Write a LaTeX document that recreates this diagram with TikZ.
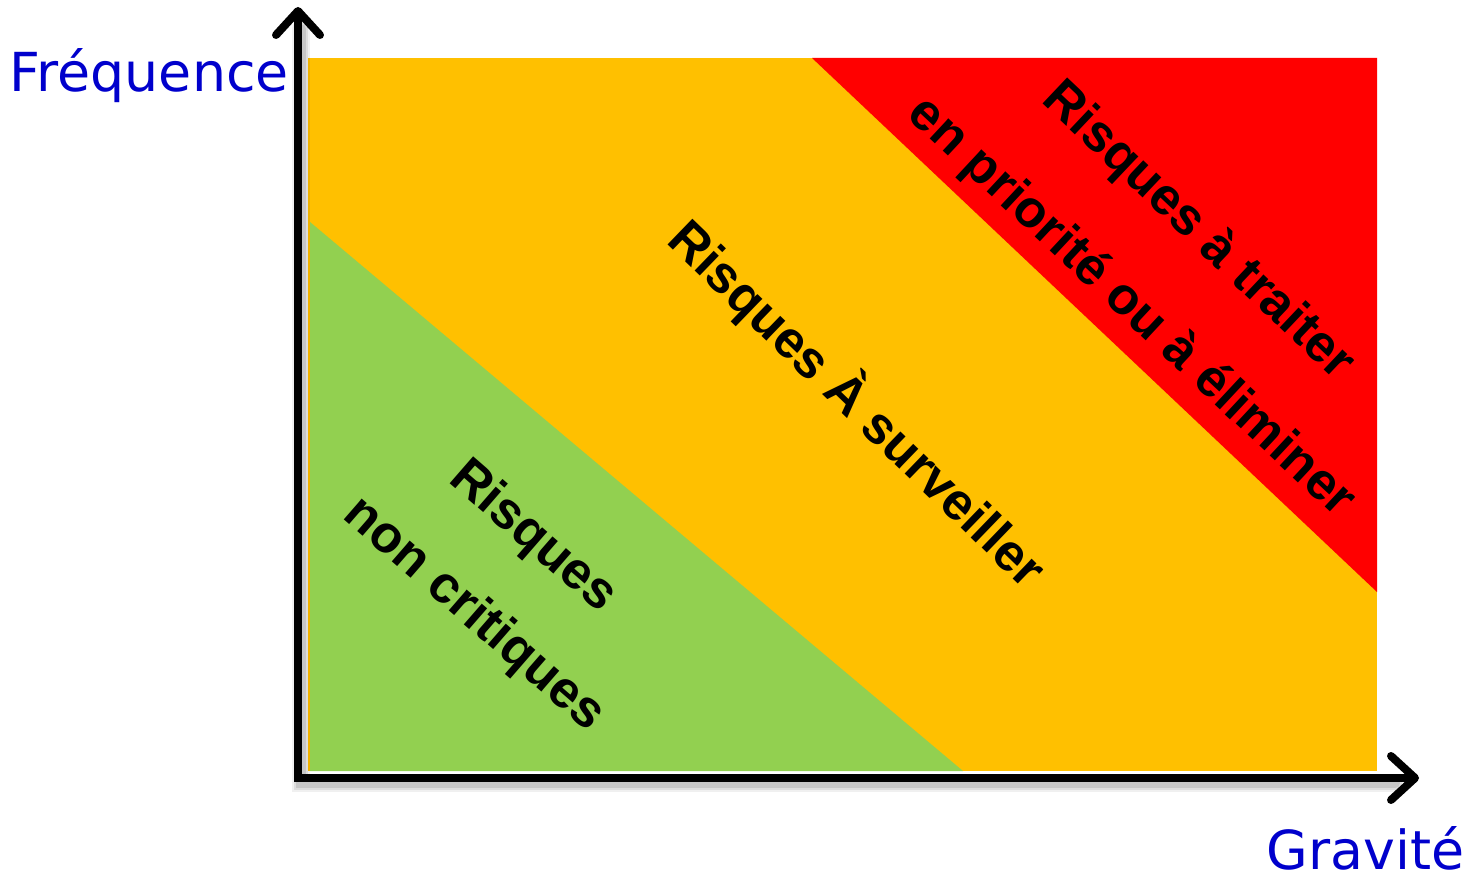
\documentclass[tikz,border=0pt]{standalone}
\usepackage{fontspec}
\newfontfamily\labelfont{DejaVu Sans}
\newfontfamily\riskfont{Liberation Sans}
\usetikzlibrary{arrows.meta}
\definecolor{zyellow}{HTML}{FFC000}
\definecolor{zred}{HTML}{FF0000}
\definecolor{zgreen}{HTML}{92D050}
\definecolor{axblue}{RGB}{0,0,204}
\tikzset{
  axislbl/.style={inner sep=0pt, text=axblue, font=\labelfont\fontsize{15.3}{18}\selectfont},
  risklbl/.style={inner sep=0pt, anchor=base, text=black, font=\riskfont\bfseries\fontsize{14.8}{17}\selectfont},
  axisline/.style={line width=0.08cm, line join=miter,
    {Straight Barb[length=0.24cm,width=0.44cm,round]}-{Straight Barb[length=0.24cm,width=0.44cm,round]}},
  axisshadow/.style={draw=black, line join=miter, line cap=round}
}
\begin{document}
\begin{tikzpicture}
\useasboundingbox (0,0) rectangle (14.66,8.74);
% zones
\fill[zyellow] (3.08,8.16) rectangle (13.77,1.03);
\fill[zgreen] (3.10,6.52) -- (3.10,1.03) -- (9.63,1.03) -- cycle;
\fill[zred] (8.12,8.16) -- (13.77,8.16) -- (13.77,2.82) -- cycle;
% axes
\coordinate (ytip) at (2.98,8.67);
\coordinate (origin) at (2.98,0.96);
\coordinate (xtip) at (14.19,0.96);
\coordinate (sy) at (3.01,8.45);
\coordinate (so) at (3.01,0.91);
\coordinate (sx) at (13.95,0.91);
\draw[axisshadow, line width=0.18cm, opacity=0.06] (sy) -- (so) -- (sx);
\draw[axisshadow, line width=0.14cm, opacity=0.08] (sy) -- (so) -- (sx);
\draw[axisshadow, line width=0.10cm, opacity=0.10] (sy) -- (so) -- (sx);
\draw[axisline] (ytip) -- (origin) -- (xtip);
% axis labels
\node[axislbl, anchor=base west] (freq) at (0.09,7.82) {Fréquence};
\node[axislbl, anchor=base east] (grav) at (14.65,0.05) {Gravité};
% zone labels
\node[risklbl, rotate=-43.4] (red1) at (11.885,6.325) {Risques à traiter};
\node[risklbl, rotate=-43] (red2) at (11.215,5.565) {en priorité ou à éliminer};
\node[risklbl, rotate=-44] (mid) at (8.45,4.575) {Risques À surveiller};
\node[risklbl, rotate=-41] (green1) at (5.24,3.265) {Risques};
\node[risklbl, rotate=-41] (green2) at (4.65,2.49) {non critiques};
\end{tikzpicture}
\end{document}
